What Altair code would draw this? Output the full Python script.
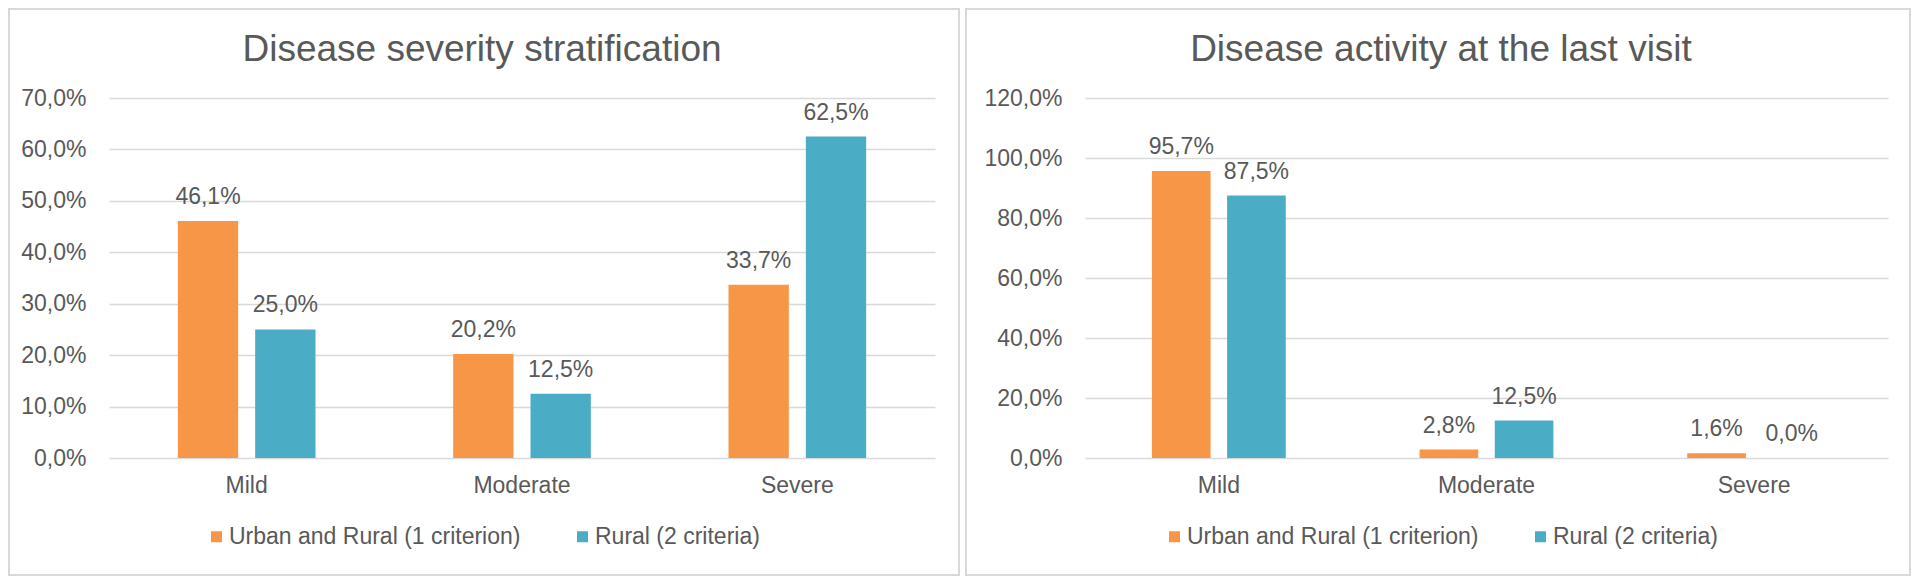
import altair as alt
import pandas as pd

categories = ["Mild", "Moderate", "Severe"]
series_names = ["Urban and Rural (1 criterion)", "Rural (2 criteria)"]
severity_urban = [0.461, 0.202, 0.337]
severity_rural = [0.250, 0.125, 0.625]
activity_urban = [0.957, 0.028, 0.016]
activity_rural = [0.875, 0.125, 0.000]
severity_ticks = [0.0, 0.1, 0.2, 0.3, 0.4, 0.5, 0.6, 0.7]
activity_ticks = [0.0, 0.2, 0.4, 0.6, 0.8, 1.0, 1.2]
titles = ["Disease severity stratification", "Disease activity at the last visit"]
colors = ["#F79646", "#4BACC6"]

GRAY = "#595959"
GRID = "#D9D9D9"
FONT = "Liberation Sans"
FS = 23


def long_table(a, b):
    rows = []
    for i, c in enumerate(categories):
        rows.append({"cat": c, "series": series_names[0], "v": a[i]})
        rows.append({"cat": c, "series": series_names[1], "v": b[i]})
    return pd.DataFrame(rows)


def panel(df, ymax, ticks, title, W, H, frame, title_x, legend_x):
    base = alt.Chart(df)
    x = alt.X("cat:N", sort=categories,
              scale=alt.Scale(paddingInner=0.5, paddingOuter=0.25),
              axis=alt.Axis(title=None, labelAngle=0, domain=False, ticks=False,
                            labelPadding=16, labelFontSize=FS, labelColor=GRAY,
                            labelFont=FONT, grid=False))
    xo = alt.XOffset("series:N", sort=series_names,
                     scale=alt.Scale(paddingInner=0.22))
    y = alt.Y("v:Q", scale=alt.Scale(domain=[0, ymax], nice=False),
              axis=alt.Axis(title=None, values=ticks,
                            labelExpr="replace(format(datum.value, '.1%'), '.', ',')",
                            domain=False, ticks=False, labelPadding=23,
                            labelFontSize=FS, labelColor=GRAY, labelFont=FONT,
                            gridColor=GRID, gridWidth=1.5))
    color = alt.Color("series:N", sort=series_names,
                      scale=alt.Scale(domain=series_names, range=colors),
                      legend=alt.Legend(title=None, orient="none", direction="horizontal",
                                        legendX=legend_x, legendY=427,
                                        symbolType="square", symbolSize=121,
                                        symbolStrokeWidth=0, labelFontSize=FS,
                                        labelColor=GRAY, labelFont=FONT, labelLimit=500,
                                        labelOffset=1, columnPadding=50, padding=0))
    one = pd.DataFrame({"t": [title]})
    fx1, fx2, fy1, fy2 = frame
    border = alt.Chart(one).mark_rect(fillOpacity=0, stroke=GRID, strokeWidth=2).encode(
        x=alt.value(fx1), x2=alt.value(fx2), y=alt.value(fy1), y2=alt.value(fy2))
    ttl = alt.Chart(one).mark_text(fontSize=37, color=GRAY, font=FONT,
                                    baseline="middle", align="center").encode(
        x=alt.value(title_x), y=alt.value(-48), text="t:N")
    bars = base.mark_bar().encode(x=x, xOffset=xo, y=y, color=color)
    labels = base.transform_calculate(
        lbl="replace(format(datum.v, '.1%'), '.', ',')"
    ).mark_text(baseline="alphabetic", dy=-17, fontSize=FS, color=GRAY, font=FONT).encode(
        x=x, xOffset=xo, y=y, text="lbl:N")
    return alt.layer(border, bars, labels, ttl).properties(width=W, height=H)


left = panel(long_table(severity_urban, severity_rural), 0.7, severity_ticks, titles[0],
             826, 360, (-100, 850, -89, 477), 373, 96)
right = panel(long_table(activity_urban, activity_rural), 1.2, activity_ticks, titles[1],
              803, 360, (-119, 825, -89, 477), 356, 78)

chart = alt.hconcat(left, right, spacing=150, bounds="flush").resolve_scale(
    color="independent", x="independent", y="independent", xOffset="independent"
).properties(padding=0).configure_view(stroke=None)

chart.save("out.html", embed_options={"renderer": "svg", "actions": False})
